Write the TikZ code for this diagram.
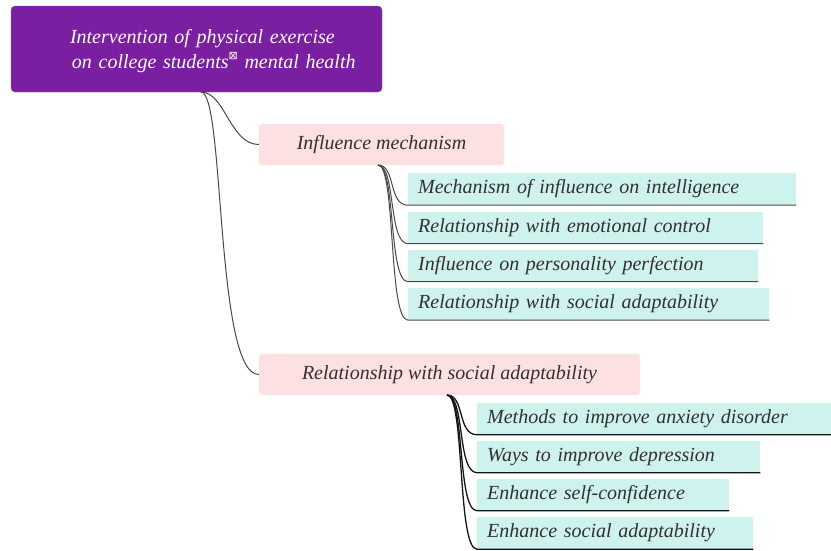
\documentclass[tikz,border=0pt]{standalone}
\usepackage{fontspec}
\setmainfont{Liberation Serif}
\newfontfamily\dejavu{DejaVu Sans}
\usetikzlibrary{positioning}
\definecolor{rootpurple}{RGB}{123,31,162}
\definecolor{rootedge}{RGB}{105,95,205}
\definecolor{topicpink}{RGB}{253,224,225}
\definecolor{topicedge}{RGB}{250,236,240}
\definecolor{leafteal}{RGB}{206,242,237}
\definecolor{linkgray}{RGB}{72,72,72}
\definecolor{linkdark}{RGB}{20,20,20}
\definecolor{textgray}{RGB}{52,48,50}

\begin{document}
\begin{tikzpicture}[x=1pt,y=-1pt,
    root/.style={rectangle,draw=rootedge,fill=rootpurple,rounded corners=4pt,text=white,
      align=left,text width=371pt,inner xsep=0pt,minimum height=86pt,
      font=\fontsize{20}{25}\selectfont\itshape},
    topic/.style={rectangle,draw=topicedge,fill=topicpink,rounded corners=3pt,text=textgray,
      minimum height=41pt,font=\fontsize{20}{24}\selectfont\itshape},
    leaf/.style={rectangle,fill=leafteal,text=textgray,anchor=west,align=left,inner xsep=10pt,
      text width=#1,minimum height=32pt,font=\fontsize{20}{24}\selectfont\itshape},
    link/.style={draw=linkgray,line width=1pt}]

    \useasboundingbox (0,0) rectangle (831,550);

    % Central topic
    \node[root] at (196.5,49) (root) {\rule{0pt}{19pt}\hspace*{59pt}Intervention of physical exercise\\
      \hspace*{61pt}on college students\raisebox{9pt}{\fontsize{11}{11}\selectfont\dejavu ⊠} mental health};

    % Main branches
    \node[topic,minimum width=245pt] at (381.5,144.5) (mech) {Influence mechanism};
    \node[topic,minimum width=381pt] at (449.5,374.5) (social) {Relationship with social adaptability};

    % Sub-branches of the mechanism
    \node[leaf=368pt] at (408,189) (intel) {Mechanism of influence on intelligence};
    \node[leaf=335pt] at (408,227.5) (emotion) {Relationship with emotional control};
    \node[leaf=330pt] at (408,265.5) (person) {Influence on personality perfection};
    \node[leaf=341pt] at (408,304) (adapt) {Relationship with social adaptability};

    % Sub-branches of social adaptability
    \node[leaf=334pt] at (477,418.5) (anxiety) {Methods to improve anxiety disorder};
    \node[leaf=263pt] at (477,456.5) (depress) {Ways to improve depression};
    \node[leaf=232pt] at (477,494.5) (confid) {Enhance self-confidence};
    \node[leaf=256pt] at (477,533) (enhance) {Enhance social adaptability};

    % Connectors from the central topic
    \coordinate (rootout) at (201,92);
    \draw[link] (rootout) .. controls (225,92) and (230,144.5) .. (mech.west);
    \draw[link] (rootout) .. controls (225,92) and (215,374.5) .. (social.west);

    % Connectors with underlines
    \coordinate (mechout) at (378,165);
    \draw[link] (mechout) .. controls +(18,0) and +(-20,0) .. (intel.south west) -- (intel.south east);
    \draw[link] (mechout) .. controls +(18,0) and +(-20,0) .. (emotion.south west) -- (emotion.south east);
    \draw[link] (mechout) .. controls +(18,0) and +(-20,0) .. (person.south west) -- (person.south east);
    \draw[link] (mechout) .. controls +(18,0) and +(-20,0) .. (adapt.south west) -- (adapt.south east);

    \coordinate (socialout) at (447,395);
    \draw[link,draw=linkdark,line width=1.3pt] (socialout) .. controls +(18,0) and +(-20,0) .. (anxiety.south west) -- (anxiety.south east);
    \draw[link,draw=linkdark,line width=1.3pt] (socialout) .. controls +(18,0) and +(-20,0) .. (depress.south west) -- (depress.south east);
    \draw[link,draw=linkdark,line width=1.3pt] (socialout) .. controls +(18,0) and +(-20,0) .. (confid.south west) -- (confid.south east);
    \draw[link,draw=linkdark,line width=1.3pt] (socialout) .. controls +(18,0) and +(-20,0) .. (enhance.south west) -- (enhance.south east);
\end{tikzpicture}
\end{document}
